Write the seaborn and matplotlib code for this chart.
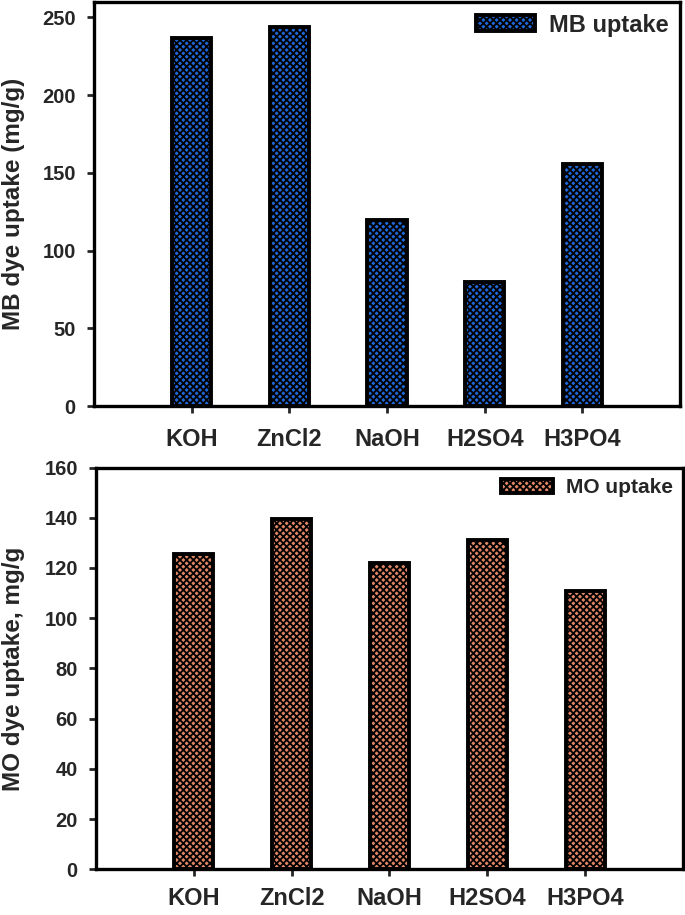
import pandas as pd
import matplotlib
matplotlib.use("Agg")
import matplotlib.pyplot as plt
import seaborn as sns

# activating agents and dye uptake values
activators = ["KOH", "ZnCl2", "NaOH", "H2SO4", "H3PO4"]
mb_uptake = [237, 244, 120, 80, 156]
mo_uptake = [125.5, 139.5, 122, 131, 111]

mb_df = pd.DataFrame({"Activator": activators, "Uptake": mb_uptake})
mo_df = pd.DataFrame({"Activator": activators, "Uptake": mo_uptake})

sns.set_style("white")
plt.rcParams["font.family"] = ["Liberation Sans", "DejaVu Sans"]
plt.rcParams["font.weight"] = "bold"
plt.rcParams["hatch.linewidth"] = 1.3

fig = plt.figure(figsize=(6.85, 9.15), dpi=100)
ax1 = fig.add_axes([0.137, 0.556, 0.856, 0.442])
ax2 = fig.add_axes([0.140, 0.050, 0.857, 0.439])


def style_panel(ax, df, color, ylabel, legend_label, ylim, yticks, legend_size, label_x, xpad):
    sns.barplot(data=df, x="Activator", y="Uptake", color=color, width=0.4,
                edgecolor="black", linewidth=2.8, saturation=1, ax=ax)
    for p in ax.patches:
        p.set_hatch("xxxxx")
    ax.set_xlim(-1, 5)
    ax.set_ylim(*ylim)
    ax.set_yticks(yticks)
    ax.set_xlabel("")
    ax.set_ylabel(ylabel, fontsize=17.5, fontweight="bold")
    ax.yaxis.set_label_coords(label_x, 0.5)
    for s in ax.spines.values():
        s.set_visible(True)
        s.set_linewidth(2.4)
        s.set_color("black")
    ax.tick_params(axis="y", direction="out", length=5, width=2, labelsize=14.5, pad=8, left=True)
    ax.tick_params(axis="x", direction="out", length=5, width=2, labelsize=17, pad=xpad, bottom=True)
    for t in ax.get_xticklabels() + ax.get_yticklabels():
        t.set_fontweight("bold")
    ax.legend(handles=[ax.patches[0]], labels=[legend_label], loc="upper right",
              frameon=False, handlelength=2.5, handleheight=0.65,
              prop={"weight": "bold", "size": legend_size},
              borderaxespad=0.1, handletextpad=0.6)


style_panel(ax1, mb_df, "#1f68d8", "MB dye uptake (mg/g)", "MB uptake",
            (0, 260), [0, 50, 100, 150, 200, 250], 17, -0.118, 11)
style_panel(ax2, mo_df, "#e08664", "MO dye uptake, mg/g", "MO uptake",
            (0, 160), [0, 20, 40, 60, 80, 100, 120, 140, 160], 15, -0.121, 8)

fig.savefig("out.png", dpi=100)
